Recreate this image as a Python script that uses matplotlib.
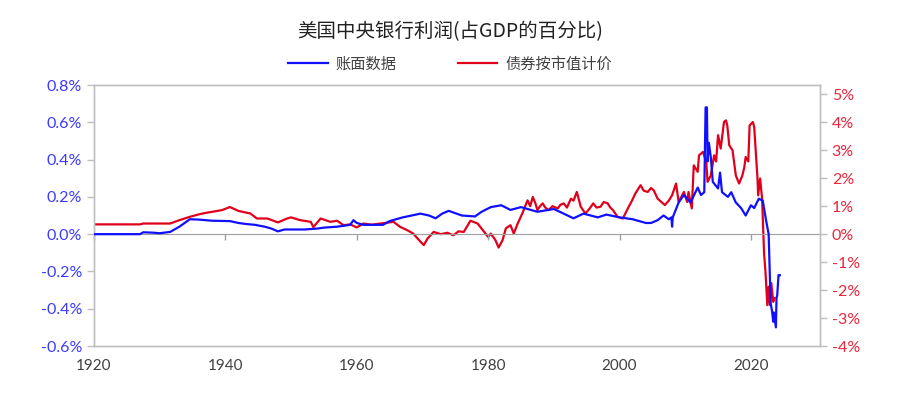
import numpy as np
import matplotlib
matplotlib.use('Agg')
import matplotlib.pyplot as plt
from matplotlib.ticker import FuncFormatter, MultipleLocator

plt.rcParams['font.family'] = ['Noto Sans CJK SC', 'DejaVu Sans']
plt.rcParams['axes.unicode_minus'] = False

title = '美国中央银行利润(占GDP的百分比)'
label_book = '账面数据'
label_mkt = '债券按市值计价'

# book-value profits, % of GDP (left axis)
book_year = [1920, 1927, 1927.5, 1929, 1930, 1931.6, 1933, 1934.6, 1936, 1938,
             1940.7, 1942, 1943, 1944.5, 1946, 1947, 1948, 1949, 1952, 1954,
             1955, 1957, 1958, 1959, 1959.5, 1960, 1961, 1963, 1964, 1965,
             1967, 1969.7, 1971, 1972, 1973, 1974, 1976, 1978, 1979, 1980.4,
             1982, 1983.4, 1985, 1987.5, 1990, 1991.5, 1993, 1994.5, 1996.7, 1998,
             2000, 2002, 2004, 2004.8, 2005.8, 2006.7, 2007.5, 2007.9, 2008, 2008.1,
             2009, 2009.8, 2010.8, 2011.9, 2012.4, 2012.9, 2013.1, 2013.3, 2013.4, 2013.6,
             2013.9, 2014.2, 2015, 2015.3, 2015.6, 2016.5, 2017, 2017.7, 2018.5, 2019.2,
             2020, 2020.5, 2021.2, 2021.8, 2022.3, 2022.7, 2023.0, 2023.2, 2023.4, 2023.5,
             2023.8, 2023.9, 2024.0, 2024.2, 2024.4]
book_val = [0, 0, 0.01, 0.008, 0.005, 0.012, 0.04, 0.08, 0.078, 0.072,
            0.07, 0.06, 0.055, 0.05, 0.04, 0.03, 0.015, 0.025, 0.025, 0.03,
            0.035, 0.04, 0.045, 0.05, 0.075, 0.06, 0.05, 0.05, 0.05, 0.07,
            0.09, 0.11, 0.10, 0.085, 0.11, 0.125, 0.10, 0.095, 0.12, 0.145,
            0.155, 0.13, 0.145, 0.12, 0.135, 0.11, 0.085, 0.11, 0.09, 0.105,
            0.09, 0.08, 0.06, 0.06, 0.075, 0.10, 0.08, 0.09, 0.04, 0.09,
            0.17, 0.21, 0.17, 0.25, 0.21, 0.225, 0.68, 0.68, 0.39, 0.49,
            0.41, 0.28, 0.245, 0.33, 0.225, 0.20, 0.225, 0.17, 0.14, 0.10,
            0.155, 0.14, 0.19, 0.18, 0.075, 0.0, -0.37, -0.41, -0.47, -0.42,
            -0.50, -0.34, -0.33, -0.22, -0.22]

# marked-to-market profits, % of GDP (right axis)
mkt_year = [1920, 1927, 1927.5, 1931.6, 1933, 1934.6, 1936, 1937, 1938, 1939.5,
            1940.7, 1942, 1943.8, 1944.8, 1946.4, 1948, 1949.4, 1950, 1951.4, 1953,
            1953.4, 1954.5, 1956, 1957, 1958, 1959, 1960, 1961, 1962.3, 1963.6,
            1965.6, 1966.6, 1967.7, 1968.6, 1969.7, 1970.2, 1970.8, 1971.7, 1972.8, 1973.8,
            1974.7, 1975.5, 1976.3, 1977.3, 1978.4, 1978.8, 1980, 1980.4, 1981.1, 1981.6,
            1982.2, 1982.7, 1983.4, 1983.9, 1984.5, 1985.2, 1986, 1986.4, 1986.8, 1987.2,
            1987.5, 1987.9, 1988.3, 1988.7, 1989.2, 1989.8, 1990.6, 1991.0, 1991.5, 1992.0,
            1992.6, 1993.0, 1993.5, 1994.1, 1994.8, 1995.4, 1996, 1996.5, 1997.1, 1997.6,
            1998.2, 1998.6, 1999, 1999.7, 2000.5, 2001.4, 2001.9, 2002.4, 2003.2, 2003.7,
            2004.3, 2004.8, 2005.2, 2005.8, 2006.9, 2007.5, 2008, 2008.6, 2009, 2009.8,
            2010.3, 2010.5, 2011, 2011.3, 2011.9, 2012.1, 2012.7, 2013.2, 2013.4, 2013.9,
            2014.4, 2014.7, 2015, 2015.4, 2015.9, 2016.2, 2016.4, 2016.7, 2017.2, 2017.7,
            2018.2, 2018.7, 2019.0, 2019.2, 2019.6, 2019.8, 2020.3, 2020.5, 2021, 2021.1,
            2021.4, 2021.7, 2021.9, 2022, 2022.2, 2022.5, 2022.7, 2022.9, 2023.1, 2023.4,
            2023.6]
mkt_val = [0.35, 0.35, 0.38, 0.38, 0.5, 0.62, 0.71, 0.76, 0.8, 0.86,
           0.97, 0.83, 0.74, 0.56, 0.56, 0.42, 0.56, 0.6, 0.5, 0.44,
           0.25, 0.56, 0.44, 0.48, 0.32, 0.35, 0.24, 0.38, 0.34, 0.38,
           0.44, 0.26, 0.14, 0.02, -0.27, -0.39, -0.15, 0.08, 0.0, 0.05,
           -0.04, 0.1, 0.08, 0.48, 0.38, 0.26, -0.1, 0.02, -0.21, -0.48,
           -0.21, 0.21, 0.32, 0.02, 0.38, 0.74, 1.21, 1.0, 1.33, 1.1,
           0.86, 1.0, 1.1, 0.95, 0.86, 1.0, 0.92, 1.05, 1.1, 0.95,
           1.27, 1.2, 1.51, 0.98, 0.74, 0.9, 1.1, 0.95, 0.98, 1.15,
           1.1, 0.95, 0.86, 0.62, 0.56, 0.98, 1.2, 1.45, 1.75, 1.55,
           1.51, 1.65, 1.57, 1.27, 1.04, 1.2, 1.39, 1.81, 1.15, 1.51,
           1.15, 1.51, 0.92, 2.46, 2.23, 2.82, 2.94, 2.58, 1.87, 2.1,
           2.82, 2.6, 3.54, 3.06, 4.01, 4.07, 3.89, 3.18, 3.0, 2.1,
           1.81, 2.1, 2.4, 2.76, 2.6, 3.89, 4.01, 3.83, 1.99, 1.39,
           1.99, 1.27, -0.04, -0.68, -1.29, -2.54, -1.88, -2.54, -1.75, -2.42,
           -2.29]

blue = '#1010ff'
red = '#e0001b'
grey = '#bfbfbf'

fig = plt.figure(figsize=(9, 3.95), dpi=100)
ax = fig.add_axes([0.1044, 0.124, 0.8066, 0.6608])
ax2 = ax.twinx()

l1, = ax.plot(book_year, book_val, color=blue, lw=1.6, label=label_book, zorder=3)
l2, = ax2.plot(mkt_year, mkt_val, color=red, lw=1.6, label=label_mkt, zorder=2)
ax.set_zorder(ax2.get_zorder() + 1)
ax.patch.set_visible(False)

ax.set_xlim(1920, 2030.5)
ax.set_ylim(-0.6, 0.8)
ax2.set_ylim(-4, 4 * 0.8 / 0.6)
ax.yaxis.set_major_locator(MultipleLocator(0.2))
ax2.yaxis.set_major_locator(MultipleLocator(1))
ax.yaxis.set_major_formatter(FuncFormatter(lambda v, p: f'{v:.1f}%'))
ax2.yaxis.set_major_formatter(FuncFormatter(lambda v, p: f'{v:.0f}%'))
ax.set_xticks(range(1920, 2021, 20))

for a in (ax, ax2):
    for s in a.spines.values():
        s.set_color(grey)
        s.set_linewidth(1)

ax.tick_params(axis='y', colors=grey, labelcolor='#3a3aff', labelsize=11.5, length=5, width=1)
ax2.tick_params(axis='y', colors=grey, labelcolor='#e8263c', labelsize=11.5, length=5, width=1)
ax.tick_params(axis='x', length=0, labelcolor='#404040', labelsize=11, pad=9)
for lab in ax.get_yticklabels() + ax2.get_yticklabels() + ax.get_xticklabels():
    lab.set_family(['Lato', 'DejaVu Sans'])

# zero line carrying the year ticks
zero = ax.secondary_xaxis(0.6 / 1.4)
zero.set_xticks(range(1920, 2021, 20))
zero.tick_params(axis='x', colors='#a0a0a0', length=4, width=1, labelbottom=False)
zero.spines['bottom'].set_color('#a0a0a0')

fig.text(0.5, 1 - 32 / 395, title, ha='center', va='center', fontsize=14, color='#222222')
fig.legend(handles=[l1, l2], loc='center', bbox_to_anchor=(0.5, 1 - 64 / 395), ncol=2,
           frameon=False, fontsize=11, handlelength=2.6, columnspacing=4.0,
           handletextpad=0.5, labelcolor='#404040')

fig.savefig('out.png', dpi=100)
